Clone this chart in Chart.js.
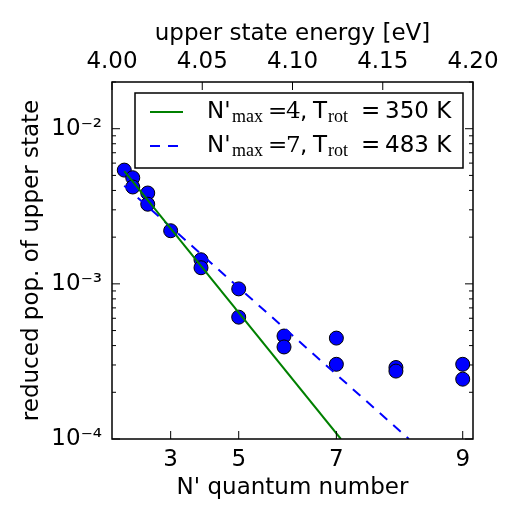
<!DOCTYPE html>
<html>
<head>
<meta charset="utf-8">
<script src="https://cdn.jsdelivr.net/npm/chart.js@4.4.0/dist/chart.umd.min.js"></script>
<style>
html, body { margin: 0; padding: 0; background: #fff; }
#wrap { width: 525px; height: 525px; position: relative; }
</style>
</head>
<body>
<div id="wrap"><canvas id="chart" width="525" height="525"></canvas></div>
<script>
// N' levels and the upper state energy of each level (eV)
var nLevels = [0, 1, 2, 3, 4, 5, 6, 7, 8, 9];
var levelEnergy = [4.0068, 4.0115, 4.0198, 4.0325, 4.0493, 4.0702, 4.0953, 4.1243, 4.1573, 4.1943];

// measured reduced populations (two markers per level where two are seen)
var pointN   = [0, 1, 1, 2, 2, 3, 4, 4, 5, 5, 6, 6, 7, 7, 8, 8, 9, 9];
var pointPop = [5.41e-3, 4.83e-3, 4.21e-3, 3.85e-3, 3.26e-3, 2.20e-3, 1.43e-3, 1.27e-3,
                9.28e-4, 6.10e-4, 4.61e-4, 3.92e-4, 4.47e-4, 3.03e-4, 2.89e-4, 2.74e-4,
                3.03e-4, 2.43e-4];

// Boltzmann fits, end points (energy in eV, population)
var fit4E = [4.0068, 4.1268];
var fit4Pop = [5.33e-3, 1.0e-4];
var fit7E = [4.0068, 4.1645];
var fit7Pop = [4.29e-3, 1.0e-4];

// axis ticks
var bottomTickLevels = [3, 5, 7, 9];
var topTicks = [4.00, 4.05, 4.10, 4.15, 4.20];
var yMajorTicks = [1e-4, 1e-3, 1e-2];

var points = pointN.map(function(n, i) {
    return { x: levelEnergy[nLevels.indexOf(n)], y: pointPop[i] };
});
var fit4 = fit4E.map(function(e, i) { return { x: e, y: fit4Pop[i] }; });
var fit7 = fit7E.map(function(e, i) { return { x: e, y: fit7Pop[i] }; });

var sup = { '-': '\u207B', '2': '\u00B2', '3': '\u00B3', '4': '\u2074' };

Chart.defaults.font.family = 'DejaVu Sans';
Chart.defaults.color = '#000';

var decorations = {
    id: 'decorations',
    afterDraw: function(chart) {
        var ctx = chart.ctx, a = chart.chartArea;
        var xs = chart.scales.x, ys = chart.scales.y, xt = chart.scales.xTop;
        ctx.save();
        ctx.strokeStyle = '#000';
        ctx.lineWidth = 1;

        // ticks inside the frame
        ctx.beginPath();
        bottomTickLevels.forEach(function(n) {
            var px = xs.getPixelForValue(levelEnergy[nLevels.indexOf(n)]);
            ctx.moveTo(px, a.bottom); ctx.lineTo(px, a.bottom - 8);
        });
        topTicks.forEach(function(e) {
            var px = xt.getPixelForValue(e);
            ctx.moveTo(px, a.top); ctx.lineTo(px, a.top + 8);
        });
        yMajorTicks.forEach(function(v) {
            var py = ys.getPixelForValue(v);
            ctx.moveTo(a.left, py); ctx.lineTo(a.left + 8, py);
            ctx.moveTo(a.right, py); ctx.lineTo(a.right - 8, py);
        });
        for (var d = -4; d <= -2; d++) {
            for (var k = 2; k <= 9; k++) {
                var v = k * Math.pow(10, d);
                if (v > ys.max) continue;
                var py = ys.getPixelForValue(v);
                ctx.moveTo(a.left, py); ctx.lineTo(a.left + 4, py);
                ctx.moveTo(a.right, py); ctx.lineTo(a.right - 4, py);
            }
        }
        ctx.stroke();

        // frame
        ctx.lineWidth = 1.5;
        ctx.strokeRect(a.left, a.top, a.right - a.left, a.bottom - a.top);

        // legend
        var bx = a.left + 23, by = a.top + 11, bw = a.right - 10 - bx, bh = 75;
        ctx.fillStyle = '#fff';
        ctx.fillRect(bx, by, bw, bh);
        ctx.strokeRect(bx, by, bw, bh);

        var rows = [
            { color: '#008000', dash: [], y: by + 19, nmax: '4', temp: '350 K' },
            { color: '#0000ff', dash: [10, 8], y: by + 53, nmax: '7', temp: '483 K' }
        ];
        rows.forEach(function(r) {
            ctx.strokeStyle = r.color;
            ctx.lineWidth = 2;
            ctx.setLineDash(r.dash);
            ctx.beginPath();
            ctx.moveTo(bx + 15, r.y); ctx.lineTo(bx + 48, r.y);
            ctx.stroke();
            ctx.setLineDash([]);

            var base = r.y + 6;
            ctx.fillStyle = '#000';
            ctx.textBaseline = 'alphabetic';
            ctx.textAlign = 'left';
            ctx.font = '23px "DejaVu Sans"';
            ctx.fillText("N'", bx + 72, base);
            ctx.font = '18px "Liberation Serif"';
            ctx.fillText('max', bx + 97, base + 4);
            ctx.font = '23px "DejaVu Serif"';
            ctx.fillText('=', bx + 133, base);
            ctx.fillText(r.nmax, bx + 151, base);
            ctx.font = '23px "DejaVu Sans"';
            ctx.fillText(',', bx + 165, base);
            ctx.fillText('T', bx + 178, base);
            ctx.font = '18px "Liberation Serif"';
            ctx.fillText('rot', bx + 193, base + 4);
            ctx.font = '23px "DejaVu Sans"';
            ctx.fillText('=', bx + 226, base);
            ctx.fillText(r.temp, bx + 250, base);
        });
        ctx.restore();
    }
};

new Chart(document.getElementById('chart').getContext('2d'), {
    type: 'scatter',
    data: {
        datasets: [{
            label: "N'max=4, Trot = 350 K",
            data: fit4,
            showLine: true,
            borderColor: '#008000',
            borderWidth: 2,
            pointRadius: 0,
            order: 1
        }, {
            label: "N'max=7, Trot = 483 K",
            data: fit7,
            showLine: true,
            borderColor: '#0000ff',
            borderWidth: 2,
            borderDash: [10, 8],
            pointRadius: 0,
            order: 2
        }, {
            label: 'measured',
            data: points,
            backgroundColor: '#0000ff',
            borderColor: '#000',
            borderWidth: 1,
            pointRadius: 7,
            order: 3
        }]
    },
    options: {
        responsive: false,
        animation: false,
        layout: { padding: { right: 52 } },
        plugins: {
            legend: { display: false },
            tooltip: { enabled: false }
        },
        scales: {
            x: {
                type: 'linear',
                position: 'bottom',
                min: 4.0,
                max: 4.2,
                grid: { display: false, drawTicks: false },
                border: { display: false },
                afterBuildTicks: function(s) {
                    s.ticks = bottomTickLevels.map(function(n) {
                        return { value: levelEnergy[nLevels.indexOf(n)] };
                    });
                },
                ticks: {
                    autoSkip: false,
                    maxRotation: 0,
                    padding: 7,
                    font: { size: 23 },
                    callback: function(v, i) { return String(bottomTickLevels[i]); }
                },
                title: {
                    display: true,
                    text: "N' quantum number",
                    font: { size: 23 },
                    padding: { top: 4, bottom: 23 }
                },
                afterFit: function(s) { s.height = 86; }
            },
            xTop: {
                type: 'linear',
                position: 'top',
                min: 4.0,
                max: 4.2,
                grid: { display: false, drawTicks: false },
                border: { display: false },
                afterBuildTicks: function(s) {
                    s.ticks = topTicks.map(function(e) { return { value: e }; });
                },
                ticks: {
                    autoSkip: false,
                    maxRotation: 0,
                    padding: 6,
                    font: { size: 23 },
                    callback: function(v) { return v.toFixed(2); }
                },
                title: {
                    display: true,
                    text: 'upper state energy [eV]',
                    font: { size: 23 },
                    padding: { top: 20, bottom: 2 }
                },
                afterFit: function(s) { s.height = 82; }
            },
            y: {
                type: 'logarithmic',
                position: 'left',
                min: 1e-4,
                max: 2e-2,
                grid: { display: false, drawTicks: false },
                border: { display: false },
                afterBuildTicks: function(s) {
                    s.ticks = yMajorTicks.map(function(v) { return { value: v }; });
                },
                ticks: {
                    padding: 10,
                    font: { size: 23 },
                    callback: function(v) {
                        var e = String(Math.round(Math.log10(v)));
                        return '10' + e.split('').map(function(c) { return sup[c]; }).join('');
                    }
                },
                title: {
                    display: true,
                    text: 'reduced pop. of upper state',
                    font: { size: 23 },
                    padding: { top: 18, bottom: 4 }
                },
                afterFit: function(s) { s.width = 112; }
            }
        }
    },
    plugins: [decorations]
});
</script>
</body>
</html>
